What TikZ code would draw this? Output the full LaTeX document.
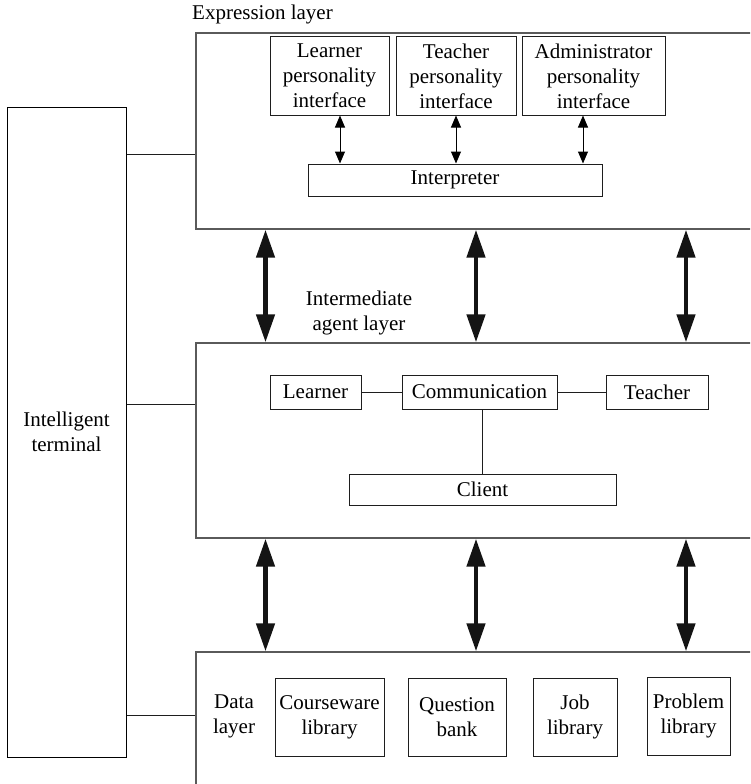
\documentclass[tikz,border=0pt]{standalone}
\usepackage{fontspec}
\setmainfont{Liberation Serif}
\usetikzlibrary{arrows.meta}
\newcommand\figfs{\fontsize{21}{25}\selectfont}
\definecolor{layergray}{RGB}{90,90,90}
\definecolor{boxline}{RGB}{30,30,30}
\tikzset{
  layerbox/.style={draw=layergray, line width=1.3pt, inner sep=0pt},
  itembox/.style={draw=boxline, line width=1pt, inner sep=0pt, align=center, font=\figfs},
  plaintext/.style={inner sep=0pt, align=center, font=\figfs},
  link/.style={draw=boxline, line width=1pt},
  smallarrow/.style={line width=1pt, {Triangle[width=10pt,length=12pt]}-{Triangle[width=10pt,length=12pt]}},
  bigarrow/.style={line width=4.5pt, {Triangle[width=18pt,length=28pt]}-{Triangle[width=18pt,length=28pt]}, draw=black!92}
}
\begin{document}
\begin{tikzpicture}[x=1pt,y=-1pt]
\useasboundingbox (0,0) rectangle (750,784);
\clip (0,0) rectangle (750,784);
% layers
\node[layerbox, minimum width=604pt, minimum height=196pt] (expr) at (498,131) {};
\node[layerbox, minimum width=604pt, minimum height=195pt] (mid) at (498,440.5) {};
\node[layerbox, minimum width=604pt, minimum height=168pt] (data) at (498,736) {};
% terminal
\node[itembox, draw=black, minimum width=119pt, minimum height=650pt] (term) at (66.5,432) {Intelligent\\terminal};
% labels
\node[plaintext, anchor=west] (lexpr) at (192,14) {Expression layer};
\node[plaintext] (lmid) at (359,313) {Intermediate\\agent layer};
\node[plaintext] (ldata) at (234,716) {Data\\layer};
% expression layer contents
\node[itembox, minimum width=119pt, minimum height=78pt] (lp) at (329.5,76) {Learner\\personality\\interface};
\node[itembox, minimum width=120pt, minimum height=78pt] (tp) at (456,76) {Teacher\\personality\\interface};
\node[itembox, minimum width=143pt, minimum height=78pt] (ap) at (593.5,76) {Administrator\\personality\\interface};
\node[itembox, minimum width=294pt, minimum height=32pt] (interp) at (455,180) {Interpreter};
% intermediate layer contents
\node[itembox, minimum width=91pt, minimum height=34pt] (mlearn) at (315.5,392) {Learner};
\node[itembox, minimum width=155pt, minimum height=34pt] (comm) at (479.5,392) {Communication};
\node[itembox, minimum width=102pt, minimum height=34pt] (mteach) at (657,392) {Teacher};
\node[itembox, minimum width=267pt, minimum height=31pt] (client) at (482.5,489.5) {Client};
% data layer contents
\node[itembox, minimum width=109pt, minimum height=78pt] (cw) at (329.5,717) {Courseware\\library};
\node[itembox, minimum width=98pt, minimum height=78pt] (qb) at (457,717) {Question\\bank};
\node[itembox, minimum width=84pt, minimum height=78pt] (jl) at (575,717) {Job\\library};
\node[itembox, minimum width=83pt, minimum height=78pt] (pl) at (688.5,716) {Problem\\library};
% helper coordinates
\coordinate (ty1) at (0,154);
\coordinate (ty2) at (0,404);
\coordinate (ty3) at (0,715);
\coordinate (sx1) at (340,0);
\coordinate (sx2) at (456,0);
\coordinate (sx3) at (583,0);
\coordinate (bx1) at (265.5,0);
\coordinate (bx2) at (476,0);
\coordinate (bx3) at (686,0);
\coordinate (cx) at (482,0);
% terminal connectors
\draw[link] (term.east |- ty1) -- (expr.west |- ty1);
\draw[link] (term.east |- ty2) -- (mid.west |- ty2);
\draw[link] (term.east |- ty3) -- (data.west |- ty3);
% small arrows
\draw[smallarrow] (sx1 |- lp.south) -- (sx1 |- interp.north);
\draw[smallarrow] (sx2 |- tp.south) -- (sx2 |- interp.north);
\draw[smallarrow] (sx3 |- ap.south) -- (sx3 |- interp.north);
% intermediate links
\draw[link] (mlearn.east) -- (comm.west);
\draw[link] (comm.east) -- (mteach.west);
\draw[link] (cx |- comm.south) -- (cx |- client.north);
% big arrows
\foreach \b in {bx1,bx2,bx3}{
  \draw[bigarrow] (\b |- expr.south) -- (\b |- mid.north);
  \draw[bigarrow] (\b |- mid.south) -- (\b |- data.north);
}
\end{tikzpicture}
\end{document}
